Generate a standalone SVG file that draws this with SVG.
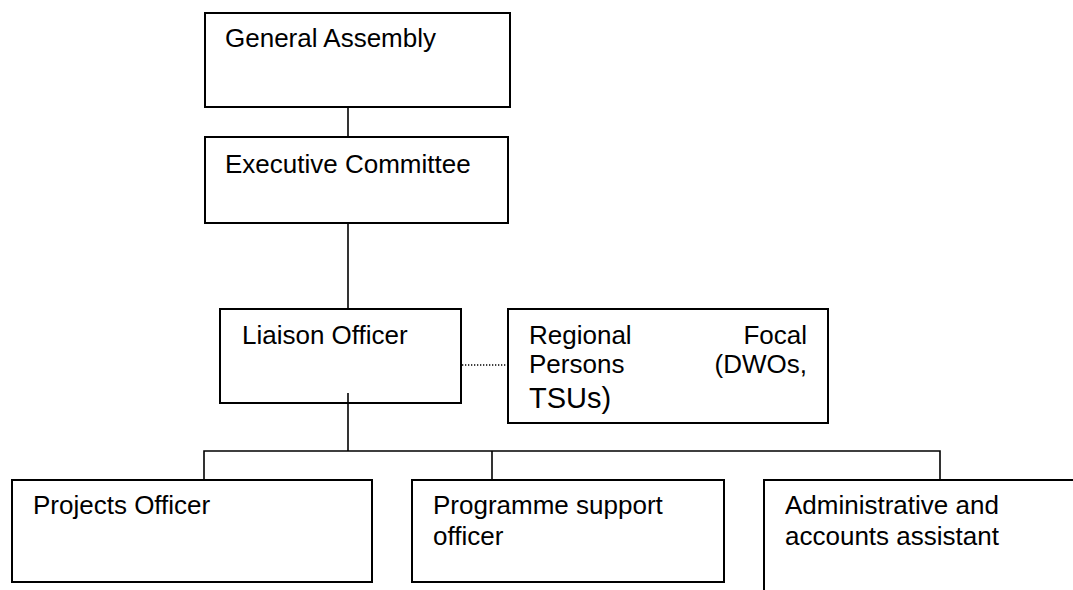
<svg xmlns="http://www.w3.org/2000/svg" width="1073" height="590" viewBox="0 0 1073 590">
<style>
.box{fill:#fff;stroke:#000;stroke-width:2}
.t{font-family:"Liberation Sans",Arial,sans-serif;font-size:26px;fill:#000}
.big{font-size:29px}
.c{fill:none;stroke:#000;stroke-width:1.6}
.dot{fill:none;stroke:#000;stroke-width:1.4;stroke-dasharray:1.3 1.7}
</style>
<rect width="1073" height="590" fill="#fff"/>
<g id="general-assembly">
<rect class="box" x="205" y="13" width="305" height="94"/>
<text class="t" x="225" y="47">General Assembly</text>
</g>
<g id="executive-committee">
<rect class="box" x="205" y="137" width="303" height="86"/>
<text class="t" x="225" y="173">Executive Committee</text>
</g>
<g id="liaison-officer">
<rect class="box" x="220" y="309" width="241" height="94"/>
<text class="t" x="242" y="344">Liaison Officer</text>
</g>
<g id="regional-focal-persons">
<rect class="box" x="508" y="309" width="320" height="114"/>
<text class="t" x="529" y="344">Regional</text>
<text class="t" x="807" y="344" text-anchor="end">Focal</text>
<text class="t" x="529" y="373">Persons</text>
<text class="t" x="807" y="373" text-anchor="end">(DWOs,</text>
<text class="t big" x="529" y="408">TSUs)</text>
</g>
<g id="projects-officer">
<rect class="box" x="12" y="480" width="360" height="102"/>
<text class="t" x="33" y="514">Projects Officer</text>
</g>
<g id="programme-support-officer">
<rect class="box" x="412" y="480" width="312" height="102"/>
<text class="t" x="433" y="514">Programme support</text>
<text class="t" x="433" y="545">officer</text>
</g>
<g id="admin-accounts-assistant">
<rect class="box" x="764" y="480" width="330" height="130"/>
<text class="t" x="785" y="514">Administrative and</text>
<text class="t" x="785" y="545">accounts assistant</text>
</g>
<g id="connectors">
<line class="c" x1="348" y1="108" x2="348" y2="136"/>
<line class="c" x1="348" y1="224" x2="348" y2="308"/>
<line class="c" x1="348" y1="393" x2="348" y2="451"/>
<polyline class="c" points="204,479 204,451 940,451 940,479"/>
<line class="c" x1="492" y1="451" x2="492" y2="479"/>
<line class="dot" x1="462" y1="365" x2="507" y2="365"/>
</g>
</svg>
